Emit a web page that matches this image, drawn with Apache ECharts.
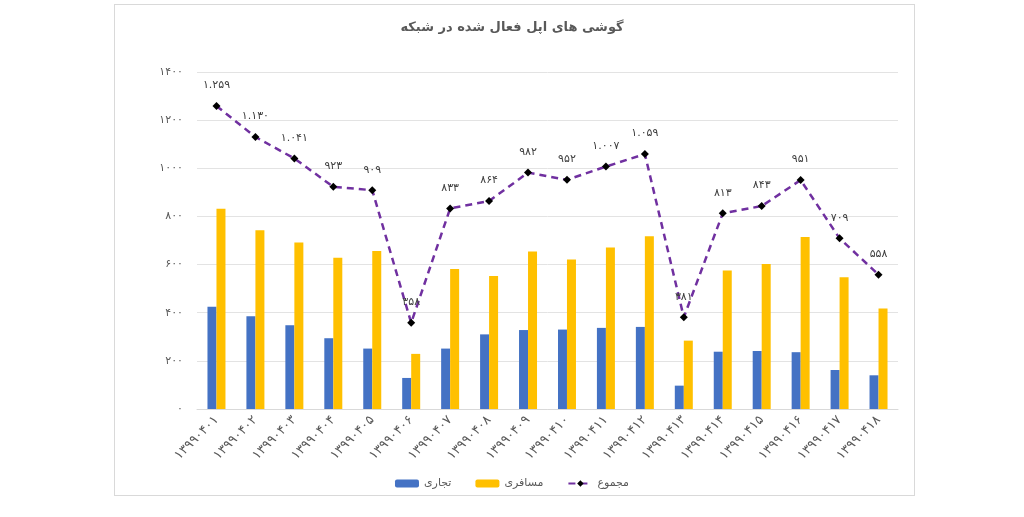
<!DOCTYPE html>
<html>
<head>
<meta charset="utf-8">
<script src="https://cdn.jsdelivr.net/npm/echarts@6/dist/echarts.min.js"></script>
<style>
    html, body { margin: 0; padding: 0; background: #fff; }
    #frame {
        position: absolute; left: 114px; top: 4px; width: 801px; height: 492px;
        border: 1px solid #d9d9d9; box-sizing: border-box;
    }
    #chart { position: absolute; left: 0; top: 0; width: 1024px; height: 517px; }
</style>
</head>
<body>
<div id="frame"></div>
<div id="chart"></div>
<script>
// داده‌ها
const categories = [
    '13990401', '13990402', '13990403', '13990404', '13990405', '13990406',
    '13990407', '13990408', '13990409', '13990410', '13990411', '13990412',
    '13990413', '13990414', '13990415', '13990416', '13990417', '13990418'
]
const commercial = [425, 385, 348, 294, 251, 129, 251, 310, 328, 330, 337, 341, 97, 238, 241, 236, 162, 140]
const passenger = [832, 743, 692, 628, 656, 229, 582, 553, 654, 621, 671, 718, 284, 575, 602, 715, 547, 418]
const totals = [1259, 1130, 1041, 923, 909, 358, 833, 864, 982, 952, 1007, 1059, 381, 813, 843, 951, 709, 558]
const yTicks = [0, 200, 400, 600, 800, 1000, 1200, 1400]

const seriesNames = ['تجاری', 'مسافری', 'مجموع']

// تبدیل ارقام به فارسی
const faDigits = '۰۱۲۳۴۵۶۷۸۹'
const toFa = s => String(s).replace(/\d/g, d => faDigits[d])
const withSep = n => toFa(String(n).replace(/\B(?=(\d{3})+(?!\d))/g, '.'))

const font = 'DejaVu Sans, Noto Sans, sans-serif'
const textColor = '#595959'

const chart = echarts.init(document.getElementById('chart'))
chart.setOption({
    animation: false,
    textStyle: { fontFamily: font },
    title: {
        text: 'گوشی های اپل فعال شده در شبکه',
        left: 'center',
        top: 16,
        textStyle: { fontFamily: font, fontSize: 13, fontWeight: 'bold', color: textColor }
    },
    legend: {
        data: seriesNames,
        bottom: 23,
        left: 'center',
        itemGap: 24,
        itemWidth: 24,
        itemHeight: 8,
        textStyle: { fontFamily: font, fontSize: 11, color: textColor }
    },
    grid: { left: 197, right: 126, top: 72, bottom: 108 },
    xAxis: {
        type: 'category',
        data: categories,
        axisLine: { lineStyle: { color: '#d9d9d9' } },
        axisTick: { show: false },
        axisLabel: {
            rotate: 45,
            margin: 9,
            fontSize: 13,
            color: textColor,
            fontFamily: font,
            formatter: v => toFa(v)
        }
    },
    yAxis: {
        type: 'value',
        min: yTicks[0],
        max: yTicks[yTicks.length - 1],
        interval: 200,
        axisLine: { show: false },
        axisTick: { show: false },
        splitLine: { lineStyle: { color: '#e3e3e3' } },
        axisLabel: {
            margin: 14,
            fontSize: 11,
            color: textColor,
            fontFamily: font,
            formatter: v => toFa(v)
        }
    },
    series: [
        {
            name: seriesNames[0],
            type: 'bar',
            data: commercial,
            barWidth: 9,
            barGap: '0%',
            itemStyle: { color: '#4472C4' }
        },
        {
            name: seriesNames[1],
            type: 'bar',
            data: passenger,
            barWidth: 9,
            barGap: '0%',
            itemStyle: { color: '#FFC000' }
        },
        {
            name: seriesNames[2],
            type: 'line',
            data: totals,
            symbol: 'diamond',
            symbolSize: 8,
            itemStyle: { color: '#000' },
            lineStyle: { color: '#7030A0', width: 2.5, type: [7, 5] },
            label: {
                show: true,
                position: 'top',
                distance: 11,
                fontSize: 11,
                color: '#404040',
                fontFamily: font,
                formatter: p => withSep(p.value)
            },
            z: 5
        }
    ]
})
</script>
</body>
</html>
